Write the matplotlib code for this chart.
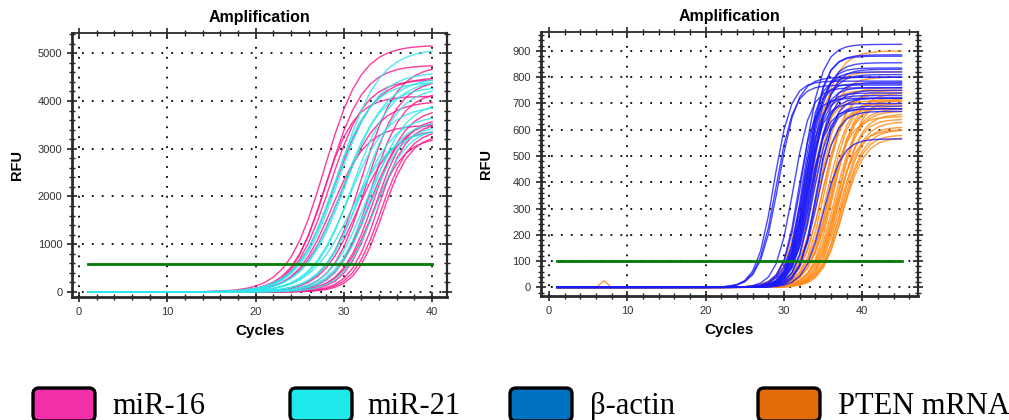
import numpy as np
import matplotlib
matplotlib.use("Agg")
import matplotlib.pyplot as plt
from matplotlib.patches import FancyBboxPatch
from matplotlib.ticker import MultipleLocator

# ---- data ----
# each amplification curve: (midpoint cycle, plateau RFU, slope width in cycles)
mir16_mid = [27.8, 28.2, 27.6, 28.4, 29.0, 28.6, 29.5, 32.0, 32.5, 33.0, 33.4, 33.6, 33.9, 34.2, 34.4, 33.2, 32.8, 31.5]
mir16_plateau = [5170, 4750, 4100, 4450, 4500, 3500, 4000, 4750, 4450, 4200, 3850, 3650, 3550, 3400, 3300, 3250, 3600, 3400]
mir16_width = [2.1, 2.0, 1.8, 2.0, 2.2, 2.0, 2.2, 2.0, 1.9, 1.8, 1.8, 1.7, 1.6, 1.6, 1.55, 1.8, 1.9, 2.0]

mir21_mid = [29.5, 28.8, 29.3, 29.8, 30.2, 30.5, 31.0, 31.5, 32.0, 32.3, 32.8, 33.0, 33.5, 30.8]
mir21_plateau = [5100, 4400, 4600, 4300, 4500, 3900, 4450, 3700, 4300, 3600, 3500, 4000, 3450, 3400]
mir21_width = [2.3, 2.1, 2.2, 2.2, 2.3, 2.2, 2.2, 2.1, 2.1, 2.0, 1.9, 2.0, 1.8, 2.3]

actin_mid = [28.7, 29.0, 29.3, 32.5, 32.8, 33.0, 33.2, 33.0, 33.5, 32.8, 33.3, 33.8, 32.5, 33.0,
             33.6, 32.7, 33.1, 33.4, 32.9, 33.7, 34.0, 33.2, 34.3, 35.0, 32.4, 31.8, 34.2, 31.2]
actin_plateau = [785, 770, 800, 925, 885, 880, 855, 835, 830, 820, 810, 780, 775, 760,
                 750, 740, 730, 720, 700, 690, 680, 680, 670, 565, 800, 720, 720, 760]
actin_width = [1.1, 1.15, 1.2, 1.2, 1.2, 1.1, 1.2, 1.1, 1.2, 1.1, 1.2, 1.1, 1.0, 1.1,
               1.2, 1.1, 1.0, 1.1, 1.0, 1.1, 1.0, 1.1, 1.2, 1.2, 1.0, 1.0, 1.1, 1.1]

pten_mid = [33.5, 33.0, 34.0, 34.5, 35.0, 35.2, 35.5, 35.8, 36.0, 36.2, 36.5, 36.8, 37.0, 37.0,
            37.2, 37.3, 37.4, 37.5, 37.5, 34.8, 35.6, 36.3, 36.9, 34.2, 36.6, 32.5, 33.2]
pten_plateau = [900, 820, 800, 760, 750, 740, 720, 710, 700, 690, 680, 670, 660, 640,
                630, 610, 600, 580, 570, 700, 650, 740, 720, 680, 600, 750, 710]
pten_width = [1.5, 1.3, 1.4, 1.3, 1.4, 1.3, 1.4, 1.3, 1.4, 1.3, 1.4, 1.3, 1.4, 1.3,
              1.4, 1.3, 1.4, 1.3, 1.4, 1.3, 1.4, 1.5, 1.5, 1.3, 1.4, 1.3, 1.2]
# one PTEN trace has a blip at cycle 7
pten_blip_curve = 5
pten_blip_cycle = 7
pten_blip_rfu = 25

left_cycles = np.arange(1, 41)
right_cycles = np.arange(1, 46)
left_threshold = 580
right_threshold = 100

legend_names = ["miR-16", "miR-21", "\u03b2-actin", "PTEN mRNA"]
legend_colors = ["#f22ea8", "#1fe8ea", "#0070c0", "#e36c0a"]

# ---- drawing ----
plt.rcParams["font.family"] = ["Liberation Sans", "DejaVu Sans"]

fig = plt.figure(figsize=(10.09, 4.20), dpi=100)
ax1 = fig.add_axes([0.0714, 0.2929, 0.3717, 0.6286])
ax2 = fig.add_axes([0.5359, 0.2952, 0.3739, 0.6286])


def curve(cycles, mid, plateau, width):
    return plateau / (1.0 + np.exp(-(cycles - mid) / width))


for m, p, w in zip(mir16_mid, mir16_plateau, mir16_width):
    ax1.plot(left_cycles, curve(left_cycles, m, p, w), color="#ff1a8c", lw=1.0, alpha=0.85)
for m, p, w in zip(mir21_mid, mir21_plateau, mir21_width):
    ax1.plot(left_cycles, curve(left_cycles, m, p, w), color="#2ee6ee", lw=1.0, alpha=0.85)
ax1.plot([left_cycles[0], left_cycles[-1]], [left_threshold, left_threshold], color="#007a00", lw=2.0)

for i, (m, p, w) in enumerate(zip(pten_mid, pten_plateau, pten_width)):
    y = curve(right_cycles, m, p, w)
    if i == pten_blip_curve:
        y[right_cycles == pten_blip_cycle] = pten_blip_rfu
    ax2.plot(right_cycles, y, color="#ff8c1a", lw=1.0, alpha=0.85)
for m, p, w in zip(actin_mid, actin_plateau, actin_width):
    ax2.plot(right_cycles, curve(right_cycles, m, p, w), color="#1a1aff", lw=1.0, alpha=0.8)
ax2.plot([right_cycles[0], right_cycles[-1]], [right_threshold, right_threshold], color="#007a00", lw=2.0)

ax1.set_xlim(-0.8, 41.7)
ax1.set_ylim(-105, 5425)
ax1.yaxis.set_major_locator(MultipleLocator(1000))
ax1.yaxis.set_minor_locator(MultipleLocator(200))

ax2.set_xlim(-1.06, 47.1)
ax2.set_ylim(-33, 972)
ax2.yaxis.set_major_locator(MultipleLocator(100))
ax2.yaxis.set_minor_locator(MultipleLocator(20))

for ax in (ax1, ax2):
    ax.xaxis.set_major_locator(MultipleLocator(10))
    ax.xaxis.set_minor_locator(MultipleLocator(2))
    ax.grid(True, which="major", color="black", lw=1.3, linestyle=(0, (1, 4.5)))
    ax.set_axisbelow(True)
    ax.tick_params(which="major", direction="inout", length=7, width=1.2,
                   labelsize=8, labelcolor="#333333", color="#222222")
    ax.tick_params(which="minor", direction="inout", length=5, width=1.0, color="#222222")
    ax.tick_params(axis="x", which="both", top=True)
    ax.tick_params(axis="y", which="both", right=True)
    ax.spines["left"].set_linewidth(2.0)
    ax.spines["bottom"].set_linewidth(2.0)
    ax.spines["top"].set_linewidth(1.3)
    ax.spines["right"].set_linewidth(1.6)
    for s in ax.spines.values():
        s.set_color("#2a2a2a")
    ax.set_title("Amplification", fontsize=11.5, fontweight="bold", pad=8)
    ax.set_xlabel("Cycles", fontsize=11, fontweight="bold", labelpad=5)
    ax.set_ylabel("RFU", fontsize=10.5, fontweight="bold")

ax1.yaxis.set_label_coords(-0.127, 0.5)
ax2.yaxis.set_label_coords(-0.127, 0.5)

# legend drawn as boxes + serif text along the bottom
box_x = [0.33, 2.90, 5.10, 7.58]
text_x = [1.12, 3.67, 5.90, 8.38]
for bx, tx, name, col in zip(box_x, text_x, legend_names, legend_colors):
    box = FancyBboxPatch((bx, -0.01), 0.62, 0.33,
                         boxstyle="round,pad=0,rounding_size=0.06",
                         facecolor=col, edgecolor="black", lw=2.4,
                         transform=fig.dpi_scale_trans, clip_on=False)
    fig.patches.append(box)
    fig.text(tx, 0.06, name, transform=fig.dpi_scale_trans, fontsize=22,
             family=["Liberation Serif", "DejaVu Serif"], va="baseline", ha="left")

fig.savefig("out.png", dpi=100)
